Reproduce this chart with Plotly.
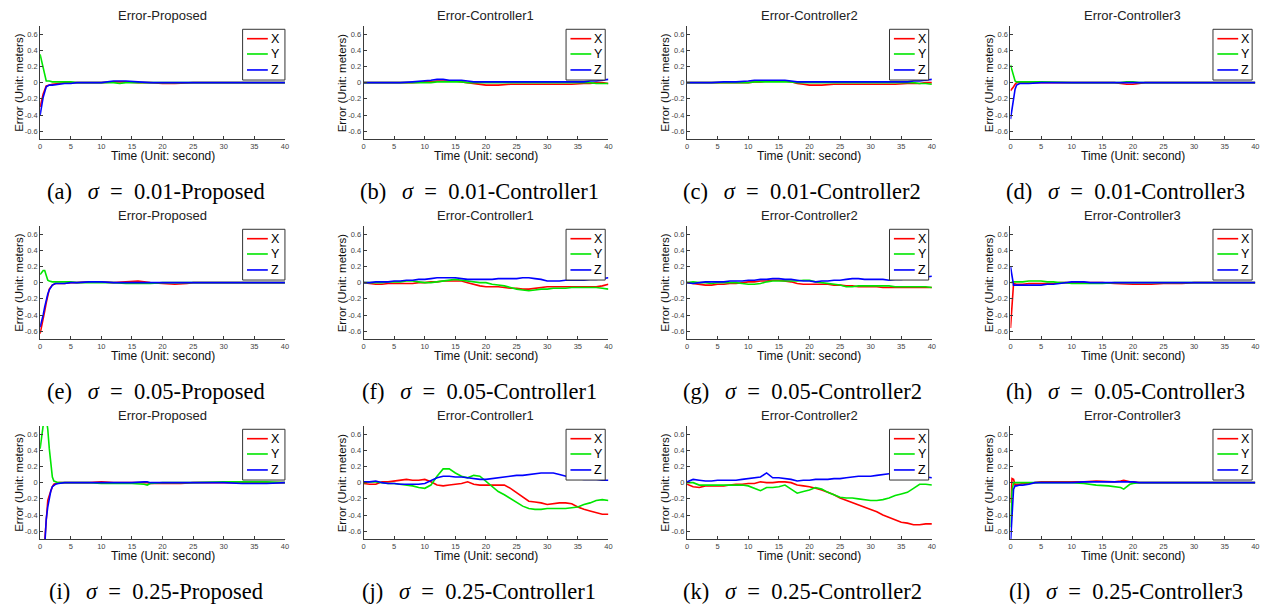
import plotly.graph_objects as go

# ---------------- data ----------------
T_INT = list(range(0, 41))

a_t = [0, 0.5, 1, 1.5, 2, 3, 4, 5, 6, 8, 10, 12, 13, 14, 16, 18, 20, 22, 25, 30, 35, 40]
a_x = [-0.30, -0.14, -0.04, -0.03, -0.02, -0.01, 0.0, 0.0, 0.0, 0.0, 0.0, 0.01, 0.01, 0.01, 0.0, 0.0, -0.01, -0.01, 0.0, 0.0, 0.0, 0.0]
a_y = [0.35, 0.18, 0.02, 0.02, 0.01, 0.01, 0.01, 0.01, 0.0, 0.0, 0.0, 0.0, -0.01, 0.0, 0.0, 0.0, 0.0, 0.0, 0.0, 0.0, 0.0, 0.0]
a_z = [-0.40, -0.18, -0.05, -0.03, -0.03, -0.02, -0.01, -0.01, 0.0, 0.0, 0.0, 0.02, 0.02, 0.02, 0.01, 0.0, 0.0, 0.0, 0.0, 0.0, 0.0, 0.0]

b_t = [0, 2, 4, 6, 8, 10, 11, 12, 13, 14, 15, 16, 17, 18, 19, 20, 22, 24, 26, 28, 30, 32, 34, 36, 37, 38, 39, 40]
b_x = [0, 0, 0, 0, 0, 0.01, 0.01, 0.02, 0.02, 0.02, 0.02, 0.01, 0.0, -0.01, -0.02, -0.03, -0.03, -0.02, -0.02, -0.02, -0.02, -0.02, -0.02, -0.01, -0.01, 0.0, 0.0, -0.01]
b_y = [0, 0, 0, 0, 0, 0, 0, 0.01, 0.01, 0.01, 0.01, 0.01, 0.0, 0.0, 0, 0, 0, 0, 0, 0, 0, 0, 0, 0, 0, -0.01, -0.01, -0.01]
b_z = [0, 0, 0, 0, 0.01, 0.02, 0.03, 0.04, 0.04, 0.03, 0.03, 0.03, 0.02, 0.01, 0.01, 0.01, 0.01, 0.01, 0.01, 0.01, 0.01, 0.01, 0.01, 0.01, 0.02, 0.02, 0.03, 0.04]

c_t = [0, 2, 4, 6, 8, 10, 11, 12, 13, 14, 15, 16, 17, 18, 19, 20, 22, 24, 26, 28, 30, 32, 34, 36, 37, 38, 39, 40]
c_x = [0, 0, 0, 0, 0, 0, 0.01, 0.01, 0.02, 0.02, 0.02, 0.02, 0.01, -0.01, -0.02, -0.03, -0.03, -0.02, -0.02, -0.02, -0.02, -0.02, -0.02, -0.01, -0.01, -0.01, 0.0, 0.0]
c_y = [0, 0, 0, 0, 0, 0, 0.01, 0.01, 0.01, 0.01, 0.01, 0.01, 0.01, 0.0, 0, 0, 0, 0, 0, 0, 0, 0, 0, 0, 0, -0.01, -0.01, -0.02]
c_z = [0, 0, 0, 0.01, 0.01, 0.02, 0.03, 0.03, 0.03, 0.03, 0.03, 0.03, 0.02, 0.01, 0.01, 0.01, 0.01, 0.01, 0.01, 0.01, 0.01, 0.01, 0.01, 0.01, 0.02, 0.02, 0.03, 0.04]

d_t = [0, 0.25, 0.5, 0.75, 1, 1.5, 2, 3, 5, 10, 15, 17, 18, 19, 20, 21, 22, 25, 30, 35, 40]
d_x = [-0.10, -0.08, -0.05, -0.02, 0.0, 0.0, 0.0, 0.0, 0.0, 0.0, 0.0, 0.0, -0.01, -0.02, -0.02, -0.01, 0.0, 0.0, 0.0, 0.0, 0.0]
d_y = [0.22, 0.15, 0.08, 0.02, 0.01, 0.01, 0.01, 0.01, 0.01, 0.0, 0.0, 0.0, 0.0, 0.01, 0.01, 0.0, 0.0, 0.0, 0.0, 0.0, 0.0]
d_z = [-0.45, -0.32, -0.20, -0.08, -0.03, -0.01, -0.01, -0.01, 0.0, 0.0, 0.0, 0.0, 0.0, 0.0, 0.0, 0.0, 0.0, 0.0, 0.0, 0.0, 0.0]

e_t = [0, 0.25, 0.5, 0.75, 1, 1.25, 1.5, 2, 2.5, 3, 4, 5, 6, 8, 10, 12, 14, 15, 16, 17, 18, 20, 22, 24, 25, 30, 35, 40]
e_x = [-0.63, -0.55, -0.45, -0.35, -0.25, -0.15, -0.08, -0.03, -0.01, -0.01, -0.01, 0.0, 0.0, 0.01, 0.01, 0.0, 0.01, 0.02, 0.02, 0.01, 0.0, -0.01, -0.02, -0.01, 0.0, 0.0, 0.0, 0.0]
e_y = [0.10, 0.13, 0.15, 0.15, 0.08, 0.03, 0.02, 0.01, 0.01, 0.01, 0.01, 0.01, 0.0, 0.0, 0.0, 0.0, -0.01, -0.01, -0.01, -0.01, -0.01, 0.0, 0.0, 0.0, 0.0, 0.0, 0.0, 0.0]
e_z = [-0.55, -0.48, -0.40, -0.30, -0.21, -0.14, -0.09, -0.03, -0.01, -0.01, -0.01, 0.0, 0.0, 0.01, 0.01, 0.0, 0.0, 0.0, 0.0, 0.0, 0.0, 0.0, 0.0, 0.0, 0.0, 0.0, 0.0, 0.0]

f_t = T_INT
f_x = [0, -0.01, -0.02, -0.02, -0.01, -0.01, -0.01, -0.01, -0.01, 0.0, 0.0, 0.01, 0.01, 0.02, 0.02, 0.02, 0.02, 0.0, -0.02, -0.04, -0.05, -0.05, -0.05, -0.06, -0.07, -0.07, -0.08, -0.08, -0.07, -0.06, -0.05, -0.05, -0.05, -0.05, -0.05, -0.05, -0.05, -0.05, -0.05, -0.04, -0.02]
f_y = [0, 0, 0, 0, 0.01, 0.01, 0.01, 0.02, 0.02, 0.01, 0.0, 0.0, 0.01, 0.02, 0.03, 0.04, 0.03, 0.02, 0.01, 0.0, 0.0, -0.02, -0.03, -0.04, -0.06, -0.08, -0.09, -0.10, -0.09, -0.08, -0.08, -0.07, -0.07, -0.07, -0.06, -0.06, -0.06, -0.06, -0.06, -0.07, -0.08]
f_z = [0, 0, 0.01, 0.01, 0.01, 0.02, 0.02, 0.03, 0.03, 0.04, 0.04, 0.05, 0.06, 0.06, 0.06, 0.06, 0.05, 0.04, 0.04, 0.04, 0.04, 0.04, 0.05, 0.05, 0.05, 0.05, 0.06, 0.06, 0.05, 0.04, 0.02, 0.02, 0.02, 0.03, 0.03, 0.03, 0.03, 0.04, 0.04, 0.05, 0.06]

g_t = T_INT
g_x = [0, -0.01, -0.02, -0.03, -0.03, -0.02, -0.02, -0.01, -0.01, 0.0, 0.01, 0.01, 0.02, 0.02, 0.03, 0.03, 0.02, 0.01, -0.01, -0.02, -0.02, -0.02, -0.02, -0.02, -0.03, -0.03, -0.04, -0.04, -0.05, -0.05, -0.05, -0.05, -0.06, -0.06, -0.06, -0.06, -0.06, -0.06, -0.06, -0.06, -0.06]
g_y = [0, 0.01, 0.0, 0.0, -0.01, 0.0, 0.0, 0.0, 0.0, -0.01, -0.02, -0.02, -0.01, 0.01, 0.02, 0.02, 0.02, 0.02, 0.02, 0.03, 0.03, 0.01, 0.0, -0.01, -0.02, -0.03, -0.05, -0.05, -0.04, -0.04, -0.04, -0.04, -0.04, -0.04, -0.05, -0.05, -0.05, -0.05, -0.05, -0.05, -0.06]
g_z = [0, -0.01, 0.0, 0.01, 0.01, 0.01, 0.01, 0.02, 0.02, 0.02, 0.03, 0.03, 0.04, 0.04, 0.05, 0.05, 0.04, 0.04, 0.03, 0.02, 0.02, 0.01, 0.02, 0.02, 0.03, 0.03, 0.04, 0.05, 0.05, 0.04, 0.04, 0.04, 0.04, 0.03, 0.04, 0.04, 0.05, 0.05, 0.06, 0.07, 0.08]

h_t = [0, 0.25, 0.5, 1, 2, 3, 4, 5, 6, 7, 8, 9, 10, 11, 12, 13, 15, 17, 20, 23, 25, 28, 30, 35, 40]
h_x = [-0.56, -0.20, -0.01, -0.02, -0.02, -0.01, -0.01, -0.01, -0.01, -0.01, 0.0, 0.0, 0.0, 0.0, 0.0, 0.0, 0.0, -0.01, -0.02, -0.02, -0.01, -0.01, 0.0, 0.0, 0.0]
h_y = [0.0, 0.01, 0.01, 0.01, 0.01, 0.02, 0.02, 0.02, 0.01, 0.01, 0.0, 0.0, -0.01, -0.01, -0.01, -0.01, -0.01, 0.0, 0.0, 0.0, 0.0, 0.0, 0.0, 0.0, 0.0]
h_z = [0.20, 0.10, -0.03, -0.03, -0.03, -0.03, -0.03, -0.03, -0.02, -0.02, -0.01, 0.0, 0.01, 0.01, 0.01, 0.0, 0.0, 0.0, 0.0, 0.0, 0.0, 0.0, 0.0, 0.0, 0.0]

i_t = [0, 0.25, 0.5, 0.75, 1, 1.25, 1.5, 1.75, 2, 2.25, 2.5, 3, 4, 5, 8, 10, 12, 15, 17, 17.5, 18, 20, 23, 25, 30, 33, 35, 37, 40]
i_x = [-0.95, -0.92, -0.88, -0.72, -0.42, -0.22, -0.16, -0.10, -0.05, -0.02, -0.01, 0.0, 0.0, 0.0, 0.0, 0.01, 0.0, 0.0, 0.0, 0.0, -0.01, -0.01, -0.01, 0.0, 0.0, 0.0, 0.0, 0.0, 0.0]
i_y = [0.42, 0.60, 0.75, 0.85, 0.80, 0.66, 0.42, 0.20, 0.07, 0.02, 0.01, 0.0, 0.0, 0.0, 0.0, -0.01, -0.01, -0.01, -0.02, -0.03, -0.01, 0.0, 0.0, 0.0, 0.01, 0.01, 0.01, 0.01, 0.0]
i_z = [-1.0, -0.98, -0.95, -0.80, -0.45, -0.30, -0.20, -0.10, -0.05, -0.03, -0.02, -0.01, 0.0, 0.0, 0.0, 0.0, 0.0, 0.0, 0.01, 0.01, 0.0, 0.0, 0.0, 0.0, 0.0, -0.01, -0.01, -0.01, 0.0]

j_t = T_INT
j_x = [-0.01, -0.02, -0.02, 0.01, 0.01, 0.02, 0.03, 0.04, 0.03, 0.03, 0.04, 0.01, -0.03, -0.04, -0.03, -0.02, -0.01, 0.01, -0.02, -0.03, -0.03, -0.03, -0.03, -0.03, -0.07, -0.12, -0.18, -0.23, -0.24, -0.25, -0.27, -0.26, -0.25, -0.25, -0.26, -0.30, -0.33, -0.35, -0.37, -0.39, -0.39]
j_y = [0.0, 0.01, 0.01, 0.0, -0.01, -0.01, -0.02, -0.03, -0.04, -0.06, -0.07, -0.03, 0.08, 0.17, 0.17, 0.12, 0.08, 0.06, 0.09, 0.08, 0.02, -0.05, -0.11, -0.15, -0.20, -0.25, -0.29, -0.32, -0.33, -0.33, -0.32, -0.32, -0.32, -0.32, -0.31, -0.30, -0.27, -0.25, -0.22, -0.21, -0.22]
j_z = [0.01, 0.01, 0.02, 0.0, -0.01, -0.01, -0.02, -0.02, -0.02, -0.02, -0.01, 0.03, 0.06, 0.08, 0.08, 0.07, 0.07, 0.06, 0.05, 0.04, 0.04, 0.05, 0.06, 0.07, 0.08, 0.09, 0.09, 0.10, 0.11, 0.12, 0.12, 0.12, 0.10, 0.08, 0.06, 0.05, 0.04, 0.04, 0.04, 0.03, 0.03]

k_t = T_INT
k_x = [-0.02, -0.05, -0.06, -0.04, -0.04, -0.04, -0.04, -0.03, -0.02, -0.02, -0.01, -0.01, 0.01, 0.0, 0.0, 0.01, 0.01, 0.0, -0.03, -0.04, -0.05, -0.07, -0.09, -0.12, -0.15, -0.19, -0.22, -0.25, -0.28, -0.31, -0.33, -0.36, -0.40, -0.43, -0.46, -0.49, -0.50, -0.52, -0.52, -0.51, -0.51]
k_y = [0.0, 0.0, -0.03, -0.03, -0.03, -0.03, -0.03, -0.03, -0.03, -0.03, -0.04, -0.07, -0.10, -0.06, -0.06, -0.05, -0.03, -0.08, -0.13, -0.11, -0.09, -0.06, -0.08, -0.12, -0.15, -0.18, -0.19, -0.19, -0.20, -0.21, -0.22, -0.22, -0.21, -0.19, -0.16, -0.14, -0.12, -0.07, -0.02, -0.02, -0.03]
k_z = [0.01, 0.04, 0.03, 0.02, 0.02, 0.03, 0.03, 0.03, 0.03, 0.04, 0.05, 0.06, 0.07, 0.12, 0.06, 0.06, 0.05, 0.04, 0.02, 0.03, 0.03, 0.04, 0.04, 0.04, 0.05, 0.05, 0.06, 0.07, 0.08, 0.08, 0.08, 0.09, 0.10, 0.11, 0.11, 0.10, 0.10, 0.09, 0.08, 0.07, 0.06]

l_t = [0, 0.25, 0.5, 0.75, 1, 1.5, 2, 3, 4, 5, 8, 10, 12, 14, 16, 17, 18, 18.5, 19, 19.5, 20, 21, 25, 30, 35, 40]
l_x = [-0.25, 0.05, 0.04, -0.03, -0.02, -0.02, -0.01, -0.01, 0.0, 0.01, 0.01, 0.01, 0.01, 0.02, 0.01, 0.01, 0.02, 0.03, 0.02, 0.01, 0.01, 0.0, 0.0, 0.0, 0.0, 0.0]
l_y = [-0.55, -0.10, 0.0, 0.0, 0.0, 0.0, 0.0, 0.0, 0.0, 0.0, 0.0, 0.0, -0.01, -0.03, -0.04, -0.05, -0.06, -0.08, -0.05, -0.02, -0.01, 0.0, 0.0, 0.0, 0.0, 0.0]
l_z = [-0.75, -0.45, -0.08, -0.04, -0.04, -0.03, -0.03, -0.02, 0.0, 0.0, 0.0, 0.0, 0.01, 0.01, 0.01, 0.01, 0.01, 0.01, 0.01, 0.01, 0.01, 0.0, 0.0, 0.0, 0.0, 0.0]

PANEL_T = [a_t, b_t, c_t, d_t, e_t, f_t, g_t, h_t, i_t, j_t, k_t, l_t]
PANEL_X = [a_x, b_x, c_x, d_x, e_x, f_x, g_x, h_x, i_x, j_x, k_x, l_x]
PANEL_Y = [a_y, b_y, c_y, d_y, e_y, f_y, g_y, h_y, i_y, j_y, k_y, l_y]
PANEL_Z = [a_z, b_z, c_z, d_z, e_z, f_z, g_z, h_z, i_z, j_z, k_z, l_z]

METHODS = ["Proposed", "Controller1", "Controller2", "Controller3"]
SIGMAS = ["0.01", "0.05", "0.25"]
LETTERS = "abcdefghijkl"
SERIES_NAMES = ["X", "Y", "Z"]
X_TICKS = [0, 5, 10, 15, 20, 25, 30, 35, 40]
Y_TICKS = [-0.6, -0.4, -0.2, 0, 0.2, 0.4, 0.6]
Y_TICK_TEXT = ["-0.6", "-0.4", "-0.2", "0", "0.2", "0.4", "0.6"]

# ---------------- layout / style ----------------
W, H = 1265, 608
COL_LEFT = [38.3, 363.3, 688.3, 1013.3]
PLOT_W = 246
ROW_TOP = [26, 226, 426]
PLOT_H = 113.3
COLORS = ["#ff0000", "#00e600", "#0000ff"]
SANS = "Liberation Sans, Arial, sans-serif"
SERIF = "Liberation Serif, Times New Roman, serif"
AX_COLOR = "#3a3a3a"
EN = "\u2002"
THIN = "\u2009"

fig = go.Figure()
annotations = []
shapes = []


def px(xp):
    return xp / W


def py(yp):
    return 1 - yp / H


for k in range(12):
    row, col = divmod(k, 4)
    n = k + 1
    sfx = "" if n == 1 else str(n)
    left = COL_LEFT[col]
    top = ROW_TOP[row]
    bottom = top + PLOT_H

    for s, vals in enumerate([PANEL_X[k], PANEL_Y[k], PANEL_Z[k]]):
        fig.add_trace(go.Scatter(
            x=PANEL_T[k], y=vals, mode="lines", name=SERIES_NAMES[s],
            line=dict(color=COLORS[s], width=1.6),
            xaxis="x" + sfx, yaxis="y" + sfx, showlegend=False,
            hoverinfo="skip"))

    fig.layout["xaxis" + sfx] = dict(
        domain=[px(left), px(left + PLOT_W)], anchor="y" + sfx,
        range=[0, 40], tickvals=X_TICKS, ticks="inside", ticklen=3,
        tickcolor=AX_COLOR, showline=True, linecolor=AX_COLOR, linewidth=1,
        showgrid=False, zeroline=False, fixedrange=True,
        tickfont=dict(family=SANS, size=7.5, color="#444"))
    fig.layout["yaxis" + sfx] = dict(
        domain=[py(bottom), py(top)], anchor="x" + sfx,
        range=[-0.7, 0.7], tickvals=Y_TICKS, ticktext=Y_TICK_TEXT,
        ticks="inside", ticklen=3, tickcolor=AX_COLOR, showline=True,
        linecolor=AX_COLOR, linewidth=1, showgrid=False, zeroline=False,
        fixedrange=True, tickfont=dict(family=SANS, size=7.5, color="#444"))

    cx = left + PLOT_W / 2
    # subplot title
    annotations.append(dict(
        text="Error-" + METHODS[col], x=px(cx), y=py(top - 11),
        xref="paper", yref="paper", xanchor="center", yanchor="middle",
        showarrow=False, font=dict(family=SANS, size=13, color="#222")))
    # x axis title
    annotations.append(dict(
        text="Time (Unit: second)", x=px(cx), y=py(bottom + 16.5),
        xref="paper", yref="paper", xanchor="center", yanchor="middle",
        showarrow=False, font=dict(family=SANS, size=12, color="#111")))
    # y axis title
    annotations.append(dict(
        text="Error (Unit: meters)", x=px(left - 22), y=py(top + PLOT_H / 2),
        xref="paper", yref="paper", xanchor="center", yanchor="middle",
        textangle=-90, showarrow=False,
        font=dict(family=SANS, size=11.5, color="#111")))
    # caption
    annotations.append(dict(
        text="(%s)%s<i>σ</i>%s=%s%s-%s" % (LETTERS[k], EN + THIN, EN, EN,
                                         SIGMAS[row], METHODS[col]),
        x=px(cx - 7), y=py(top + 165), xref="paper", yref="paper",
        xanchor="center", yanchor="middle", showarrow=False,
        font=dict(family=SERIF, size=22.5, color="#000")))

    # in-axes legend box
    xr = "x" + sfx + " domain"
    yr = "y" + sfx + " domain"
    bx1 = 1.0 if col == 0 else 0.987
    shapes.append(dict(type="rect", xref=xr, yref=yr, x0=0.827, x1=bx1,
                       y0=0.523, y1=0.971, fillcolor="white",
                       line=dict(color="#333", width=1), layer="above"))
    for s, yy in enumerate([0.888, 0.753, 0.612]):
        shapes.append(dict(type="line", xref=xr, yref=yr, x0=0.845, x1=0.93,
                           y0=yy, y1=yy, line=dict(color=COLORS[s], width=1.6),
                           layer="above"))
        annotations.append(dict(
            text=SERIES_NAMES[s], xref=xr, yref=yr, x=0.935, y=yy,
            xanchor="left", yanchor="middle", showarrow=False,
            font=dict(family=SANS, size=12.5, color="#000")))

fig.update_layout(
    width=W, height=H, autosize=False,
    margin=dict(l=0, r=0, t=0, b=0),
    paper_bgcolor="white", plot_bgcolor="white",
    showlegend=False, annotations=annotations, shapes=shapes)

fig.write_html("out.html", config={"displayModeBar": False},
               post_script="document.body.style.margin='0';")
